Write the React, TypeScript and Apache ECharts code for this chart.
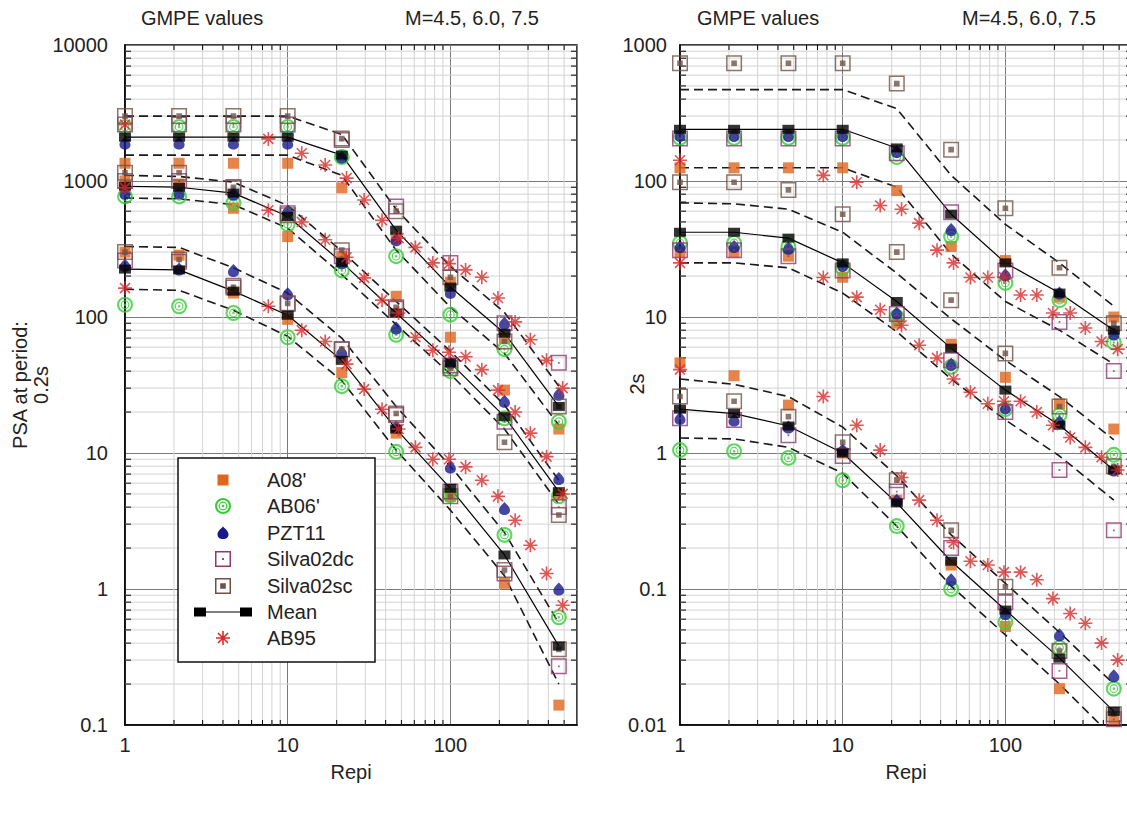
import React, { useEffect, useRef } from "react";
import * as echarts from "echarts";

// ---------- data ----------
const DIST = [1, 2.15, 4.64, 10, 21.5, 46.4, 100, 215, 464];
const AB95_DIST = [1, 7.6, 12.2, 17, 23, 29.5, 38, 48, 61, 78, 98, 124, 156, 196, 250, 310, 390, 490];
const X_TICK_LABELS = ["1", "10", "100"];
const Y_TICK_LABELS_02 = ["0.1", "1", "10", "100", "1000", "10000"];
const Y_TICK_LABELS_2 = ["0.01", "0.1", "1", "10", "100", "1000"];

// PSA at 0.2 s  (rows: M4.5, M6.0, M7.5)
const A08_02 = [
  [300, 285, 150, 96, 39, 14, 4.8, 1.1, 0.14],
  [1000, 950, 630, 390, 280, 142, 71, 29, 5],
  [1350, 1350, 1350, 1350, 890, 380, 180, 70, 15],
];
const AB06_02 = [
  [123, 120, 107, 71, 31, 10.2, 4.9, 2.5, 0.62],
  [770, 770, 690, 480, 220, 74, 40, 18, 4.8],
  [2500, 2500, 2500, 2500, 1500, 280, 104, 58, 17],
];
const PZT11_02 = [
  [240, 225, 220, 148, 55, 15.5, 7.9, 3.9, 1.0],
  [815, 815, 800, 600, 250, 83, 46, 24, 6.5],
  [1900, 1900, 1900, 1900, 1500, 370, 152, 90, 27],
];
const SILVADC_02 = [
  [260, 255, 170, 125, 58, 19, 5.2, 1.3, 0.27],
  [1000, 1000, 900, 580, 280, 115, 44, 17, 4],
  [2600, 2600, 2600, 2600, 2000, 650, 250, 90, 46],
];
const SILVASC_02 = [
  [300, 265, 165, 126, 58, 19.5, 4.8, 1.38, 0.36],
  [1150, 1150, 900, 560, 310, 118, 42, 12, 3.5],
  [3000, 3000, 3000, 3000, 2050, 600, 196, 66, 22],
];
const MEAN_02 = [
  [225, 222, 155, 103, 48, 15, 5.5, 1.78, 0.38],
  [915, 900, 815, 550, 252, 107, 46, 18.5, 5.2],
  [2100, 2100, 2100, 2100, 1550, 435, 166, 76, 22],
];
const HI_02 = [
  [330, 325, 230, 150, 70, 22, 8, 2.6, 0.56],
  [1100, 1080, 980, 660, 305, 130, 56, 22.5, 6.3],
  [3000, 3000, 3000, 3000, 2200, 620, 235, 108, 31],
];
const LO_02 = [
  [160, 157, 112, 72, 34, 10.5, 3.8, 1.25, 0.2],
  [750, 740, 670, 450, 205, 88, 38, 15, 4.2],
  [1550, 1550, 1550, 1550, 1100, 310, 118, 54, 16],
];
const AB95_02 = [
  [163, 120, 80, 66, 45, 29.5, 21, 15, 11, 9, 9, 7.9, 6.3, 4.8, 3.2, 2.1, 1.3, 0.76],
  [890, 610, 500, 370, 275, 194, 133, 107, 71, 57, 55, 51, 41, 29, 20, 14, 9.4, 5],
  [2600, 2040, 1600, 1310, 1050, 725, 515, 380, 325, 250, 247, 222, 196, 138, 92, 68, 48, 30],
];

// PSA at 2 s  (rows: M4.5, M6.0, M7.5)
const A08_2 = [
  [4.6, 3.7, 2.25, 1.0, 0.45, 0.15, 0.053, 0.0185, 0.011],
  [30, 30, 28, 19.6, 9, 6.3, 3.6, 2.3, 1.5],
  [125, 125, 125, 125, 85, 33, 26, 14, 10],
];
const AB06_2 = [
  [1.05, 1.03, 0.92, 0.63, 0.29, 0.1, 0.057, 0.037, 0.0185],
  [35, 35, 33, 23, 10, 4.3, 2.1, 1.9, 0.97],
  [208, 208, 208, 208, 150, 39, 17.8, 13.3, 6.5],
];
const PZT11_2 = [
  [1.8, 1.75, 1.55, 1.05, 0.45, 0.117, 0.066, 0.046, 0.023],
  [33, 33, 32, 24, 10.7, 4.5, 2.15, 1.7, 0.75],
  [217, 217, 217, 217, 165, 44, 20.4, 15, 7.5],
];
const SILVADC_2 = [
  [1.8, 1.75, 1.35, 0.95, 0.52, 0.2, 0.08, 0.025, 0.011],
  [31, 31, 28, 22, 10.5, 4.8, 2.0, 0.75, 0.27],
  [205, 205, 205, 205, 160, 59, 22, 9.2, 4.0],
];
const SILVASC_2 = [
  [2.6, 2.4, 1.85, 1.2, 0.63, 0.27, 0.104, 0.035, 0.012],
  [98, 98, 86, 57, 30, 13.3, 5.4, 2.2, 0.8],
  [735, 735, 735, 735, 520, 170, 63, 23, 9],
];
const MEAN_2 = [
  [2.1, 1.95, 1.58, 1.0, 0.43, 0.16, 0.07, 0.031, 0.0126],
  [42, 42, 38, 25, 13, 5.9, 2.9, 1.6, 0.75],
  [240, 240, 240, 240, 175, 57, 25, 15, 8],
];
const HI_2 = [
  [3.5, 3.2, 2.6, 1.55, 0.68, 0.25, 0.11, 0.048, 0.02],
  [69, 68, 62, 42, 21, 9.7, 4.8, 2.6, 1.25],
  [470, 470, 470, 470, 340, 110, 48, 25, 12],
];
const LO_2 = [
  [1.29, 1.27, 1.1, 0.71, 0.29, 0.105, 0.046, 0.02, 0.008],
  [25, 25, 23, 15, 7.8, 3.5, 1.75, 0.95, 0.45],
  [125, 125, 125, 125, 90, 29, 13, 8, 4.5],
];
const AB95_2 = [
  [4.1, 2.6, 1.6, 1.05, 0.66, 0.45, 0.32, 0.22, 0.16, 0.15, 0.133, 0.133, 0.117, 0.085, 0.066, 0.056, 0.04, 0.03],
  [25, 19.5, 14, 11.3, 8.7, 6.2, 5, 3.5, 2.8, 2.3, 2.4, 2.4, 2.0, 1.6, 1.3, 1.1, 0.93, 0.75],
  [142, 110, 98, 66, 62, 49, 31, 25, 19.5, 19.5, 19.7, 14.5, 14.5, 10.7, 10.7, 8.3, 6.6, 5.8],
];

const LEGEND_NAMES = ["A08'", "AB06'", "PZT11", "Silva02dc", "Silva02sc", "Mean", "AB95"];

// ---------- styling ----------
const FONT = "'Liberation Sans', Arial, Helvetica, sans-serif";
const TXT = "#222";
const C_A08 = "#e0661e";
const C_AB06 = "#38cc38";
const C_PZT = "#17198a";
const C_DC = "#8e3a74";
const C_SC = "#6f5246";
const C_AB95 = "#d62d2d";

const P_AB06 =
  "M8,0A8,8 0 1,1 -8,0A8,8 0 1,1 8,0Z M5.9,0A5.9,5.9 0 1,0 -5.9,0A5.9,5.9 0 1,0 5.9,0Z M4.4,0A4.4,4.4 0 1,1 -4.4,0A4.4,4.4 0 1,1 4.4,0Z M3.2,0A3.2,3.2 0 1,0 -3.2,0A3.2,3.2 0 1,0 3.2,0Z M1.3,0A1.3,1.3 0 1,1 -1.3,0A1.3,1.3 0 1,1 1.3,0Z";
const P_PZT = "M0,-6.5C2.5,-3.8 5.5,-1.8 5.5,1.4C5.5,4.4 3,6 0,6C-3,6 -5.5,4.4 -5.5,1.4C-5.5,-1.8 -2.5,-3.8 0,-6.5Z";
const P_DC = "M-8,-8H8V8H-8Z M-6.5,-6.5V6.5H6.5V-6.5Z M-0.9,-0.9H0.9V0.9H-0.9Z";
const P_SC = "M-8,-8H8V8H-8Z M-6.5,-6.5V6.5H6.5V-6.5Z M-2.8,-2.8H2.8V2.8H-2.8Z";
const P_AB95 = "M0,-7V7M-7,0H7M-5,-5L5,5M-5,5L5,-5";

echarts.graphic.registerShape("ab06", echarts.graphic.extendPath(P_AB06, {}));
echarts.graphic.registerShape("pzt", echarts.graphic.extendPath(P_PZT, {}));
echarts.graphic.registerShape("dcbox", echarts.graphic.extendPath(P_DC, {}));
echarts.graphic.registerShape("scbox", echarts.graphic.extendPath(P_SC, {}));
echarts.graphic.registerShape("ab95", echarts.graphic.extendPath(P_AB95, {}));

function pairs(xs: number[], ys: number[]) {
  return xs.map((x, i) => [x, ys[i]]);
}

function minorValues(lo: number, hi: number) {
  const out: number[] = [];
  const e0 = Math.floor(Math.log10(lo) + 1e-9);
  const e1 = Math.ceil(Math.log10(hi) - 1e-9);
  for (let e = e0; e < e1; e++) {
    for (let m = 2; m <= 9; m++) {
      const v = +(m * Math.pow(10, e)).toPrecision(6);
      if (v > lo * 1.0001 && v < hi * 0.9999) out.push(v);
    }
  }
  return out;
}

function gridDecor(gi: number, xmin: number, xmax: number, ymin: number, ymax: number) {
  const data: number[][] = [];
  minorValues(xmin, xmax).forEach((v) => data.push([v, ymin, 0]));
  minorValues(ymin, ymax).forEach((v) => data.push([xmin, v, 1]));
  return {
    type: "custom",
    xAxisIndex: gi,
    yAxisIndex: gi,
    silent: true,
    z: 1,
    clip: false,
    dimensions: ["x", "y", "k"],
    encode: { x: 0, y: 1 },
    data,
    renderItem: (_p: any, api: any) => {
      const k = api.value(2);
      if (k === 0) {
        const v = api.value(0);
        const a = api.coord([v, ymin]);
        const b = api.coord([v, ymax]);
        return {
          type: "group",
          children: [
            { type: "line", shape: { x1: a[0], y1: a[1], x2: b[0], y2: b[1] }, style: { stroke: "#d3d3d3", lineWidth: 1 } },
            { type: "line", shape: { x1: a[0], y1: a[1], x2: a[0], y2: a[1] - 5 }, style: { stroke: "#000", lineWidth: 1 } },
            { type: "line", shape: { x1: b[0], y1: b[1], x2: b[0], y2: b[1] + 5 }, style: { stroke: "#000", lineWidth: 1 } },
          ],
        };
      }
      const v = api.value(1);
      const a = api.coord([xmin, v]);
      const b = api.coord([xmax, v]);
      return {
        type: "group",
        children: [
          { type: "line", shape: { x1: a[0], y1: a[1], x2: b[0], y2: b[1] }, style: { stroke: "#d3d3d3", lineWidth: 1 } },
          { type: "line", shape: { x1: a[0], y1: a[1], x2: a[0] + 6, y2: a[1] }, style: { stroke: "#000", lineWidth: 1 } },
          { type: "line", shape: { x1: b[0], y1: b[1], x2: b[0] - 6, y2: b[1] }, style: { stroke: "#000", lineWidth: 1 } },
        ],
      };
    },
  };
}

function plotSeries(gi: number, d: any) {
  const s: any[] = [];
  const base = { xAxisIndex: gi, yAxisIndex: gi, silent: true };
  for (let m = 0; m < 3; m++) {
    for (const arr of [d.hi[m], d.lo[m]]) {
      s.push({
        ...base,
        type: "line",
        data: pairs(DIST, arr),
        symbol: "none",
        lineStyle: { color: "#1a1a1a", width: 1.6, type: [9, 5] },
        z: 3,
      });
    }
    s.push({
      ...base,
      type: "line",
      data: pairs(DIST, d.mean[m]),
      symbol: "none",
      lineStyle: { color: "#000", width: 1.2 },
      z: 3,
    });
  }
  const scat = (arr: number[][], symbol: string, size: any, itemStyle: any) => {
    for (let m = 0; m < 3; m++) {
      s.push({ ...base, type: "scatter", data: pairs(DIST, arr[m]), symbol, symbolSize: size, itemStyle, z: 4 });
    }
  };
  scat(d.a08, "rect", 11, { color: C_A08 });
  scat(d.ab06, "path://" + P_AB06, 16, { color: C_AB06 });
  scat(d.pzt, "path://" + P_PZT, [11, 13], { color: C_PZT });
  scat(d.dc, "path://" + P_DC, 16, { color: C_DC });
  scat(d.sc, "path://" + P_SC, 16, { color: C_SC });
  scat(d.mean, "rect", [12, 9], { color: "#000" });
  for (let m = 0; m < 3; m++) {
    s.push({
      ...base,
      type: "scatter",
      data: pairs(AB95_DIST, d.ab95[m]),
      symbol: "path://" + P_AB95,
      symbolSize: 14,
      itemStyle: { color: "transparent", borderColor: C_AB95, borderWidth: 1.6 },
      z: 5,
    });
  }
  return s;
}

function xAxis(gi: number) {
  return {
    type: "log",
    logBase: 10,
    gridIndex: gi,
    min: 1,
    max: 600,
    splitNumber: 3,
    axisLine: { onZero: false, lineStyle: { color: "#000", width: 1.5 } },
    axisTick: { show: false },
    axisLabel: {
      color: TXT,
      fontSize: 20,
      fontFamily: FONT,
      margin: 10,
      formatter: (v: number) => {
        const l = Math.log10(v);
        const i = Math.round(l);
        return Math.abs(l - i) < 0.01 && X_TICK_LABELS[i] !== undefined ? X_TICK_LABELS[i] : "";
      },
    },
    splitLine: { show: true, lineStyle: { color: "#7a7a7a", width: 1 } },
    name: "Repi",
    nameLocation: "middle",
    nameGap: 37,
    nameTextStyle: { color: TXT, fontSize: 20, fontFamily: FONT },
  };
}

function yAxis(gi: number, min: number, max: number, labels: string[], margin: number) {
  return {
    type: "log",
    logBase: 10,
    gridIndex: gi,
    min,
    max,
    splitNumber: 5,
    axisLine: { onZero: false, lineStyle: { color: "#000", width: 1.5 } },
    axisTick: { show: false },
    axisLabel: {
      color: TXT,
      fontSize: 20,
      fontFamily: FONT,
      margin,
      formatter: (v: number) => {
        const l = Math.log10(v) - Math.log10(min);
        const i = Math.round(l);
        return Math.abs(l - i) < 0.01 && labels[i] !== undefined ? labels[i] : "";
      },
    },
    splitLine: { show: true, lineStyle: { color: "#7a7a7a", width: 1 } },
  };
}

function text(x: number, y: number, t: string, extra: any = {}) {
  return {
    type: "text",
    x,
    y,
    silent: true,
    ...extra,
    style: { text: t, fill: TXT, font: `20px ${FONT}`, textAlign: "center", textVerticalAlign: "middle", ...(extra.style || {}) },
  };
}

function legendGraphic() {
  const rows = [480, 506, 533, 559, 586, 612, 638];
  const ix = 223;
  const els: any[] = [
    { type: "rect", shape: { x: 178, y: 458, width: 197, height: 204 }, style: { fill: "#fff", stroke: "#111", lineWidth: 1.5 }, z: 100 },
  ];
  els.push({ type: "rect", shape: { x: ix - 5.5, y: rows[0] - 5.5, width: 11, height: 11 }, style: { fill: C_A08 }, z: 101 });
  els.push({ type: "ab06", x: ix, y: rows[1], style: { fill: C_AB06 }, z: 101 });
  els.push({ type: "pzt", x: ix, y: rows[2], style: { fill: C_PZT }, z: 101 });
  els.push({ type: "dcbox", x: ix, y: rows[3], style: { fill: C_DC }, z: 101 });
  els.push({ type: "scbox", x: ix, y: rows[4], style: { fill: C_SC }, z: 101 });
  els.push({ type: "rect", shape: { x: 194, y: rows[5] - 4.5, width: 12, height: 9 }, style: { fill: "#000" }, z: 101 });
  els.push({ type: "rect", shape: { x: 240, y: rows[5] - 4.5, width: 12, height: 9 }, style: { fill: "#000" }, z: 101 });
  els.push({ type: "line", shape: { x1: 206, y1: rows[5], x2: 240, y2: rows[5] }, style: { stroke: "#000", lineWidth: 1.2 }, z: 101 });
  els.push({ type: "ab95", x: ix, y: rows[6], style: { fill: "none", stroke: C_AB95, lineWidth: 1.6 }, z: 101 });
  LEGEND_NAMES.forEach((n, i) => {
    els.push({ ...text(267, rows[i], n, { style: { textAlign: "left" } }), z: 101 });
  });
  return els;
}

export default function App() {
  const ref = useRef<HTMLDivElement>(null);
  useEffect(() => {
    if (!ref.current) return;
    const chart = echarts.init(ref.current, null, { renderer: "svg" });
    const d02 = { a08: A08_02, ab06: AB06_02, pzt: PZT11_02, dc: SILVADC_02, sc: SILVASC_02, mean: MEAN_02, hi: HI_02, lo: LO_02, ab95: AB95_02 };
    const d2 = { a08: A08_2, ab06: AB06_2, pzt: PZT11_2, dc: SILVADC_2, sc: SILVASC_2, mean: MEAN_2, hi: HI_2, lo: LO_2, ab95: AB95_2 };
    const option: any = {
      animation: false,
      backgroundColor: "#fff",
      grid: [
        { left: 125, top: 45, width: 452, height: 680, show: true, borderColor: "#000", borderWidth: 1.5, backgroundColor: "transparent", containLabel: false, outerBoundsMode: "none" },
        { left: 680, top: 45, width: 452, height: 680, show: true, borderColor: "#000", borderWidth: 1.5, backgroundColor: "transparent", containLabel: false, outerBoundsMode: "none" },
      ],
      xAxis: [xAxis(0), xAxis(1)],
      yAxis: [yAxis(0, 0.1, 10000, Y_TICK_LABELS_02, 17), yAxis(1, 0.01, 1000, Y_TICK_LABELS_2, 13)],
      series: [
        gridDecor(0, 1, 600, 0.1, 10000),
        gridDecor(1, 1, 600, 0.01, 1000),
        ...plotSeries(0, d02),
        ...plotSeries(1, d2),
      ],
      graphic: [
        text(202, 18, "GMPE values"),
        text(472, 18, "M=4.5, 6.0, 7.5"),
        text(758, 18, "GMPE values"),
        text(1029, 18, "M=4.5, 6.0, 7.5"),
        text(20, 385, "PSA at period:", { rotation: Math.PI / 2 }),
        text(41, 385, "0.2s", { rotation: Math.PI / 2 }),
        text(637, 384, "2s", { rotation: Math.PI / 2 }),
        ...legendGraphic(),
      ],
    };
    chart.setOption(option);
    return () => chart.dispose();
  }, []);
  return (
    <div
      ref={ref}
      style={{ position: "fixed", left: 0, top: 0, width: 1127, height: 815, background: "#fff" }}
    />
  );
}
